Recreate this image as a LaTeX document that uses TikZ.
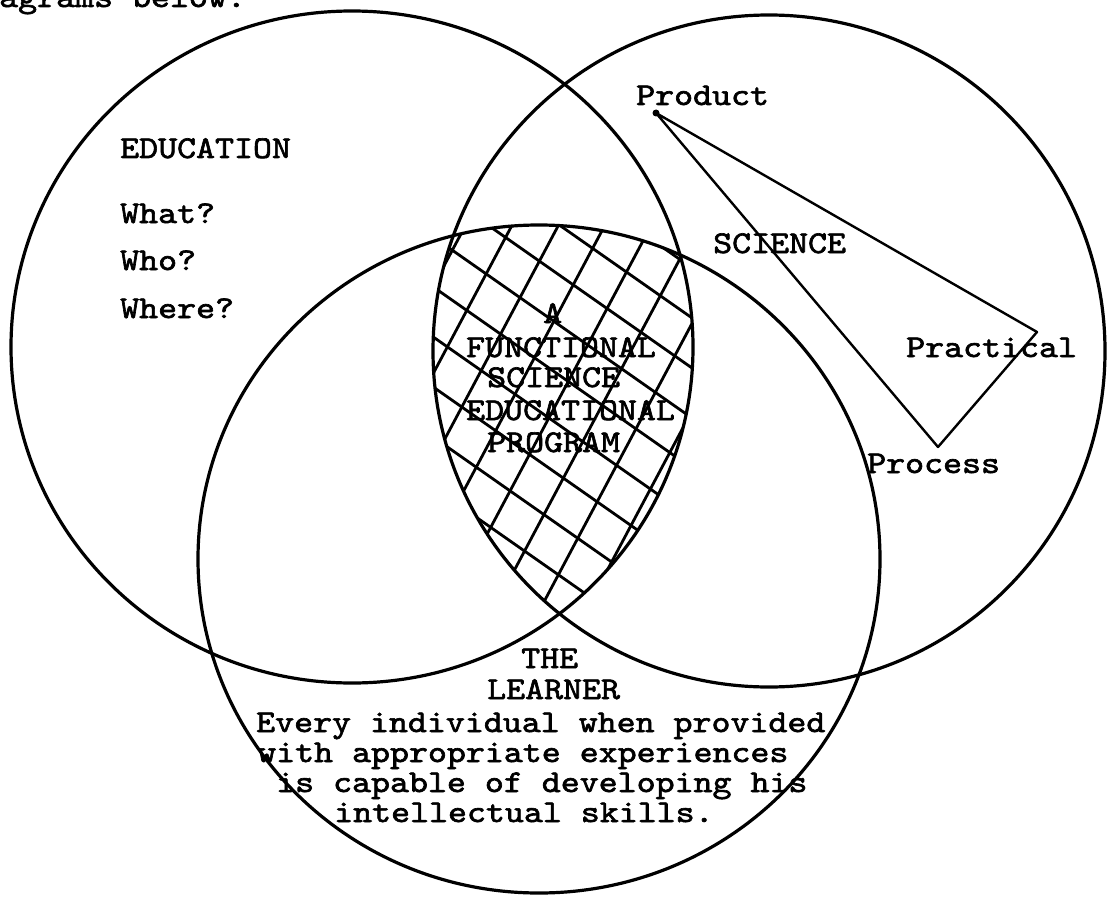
\documentclass[tikz,border=0pt]{standalone}
\usepackage{fontspec}
\newfontfamily\tw{lmmono10-regular}[Extension=.otf, FakeStretch=1.14, FakeBold=2]
\begin{document}
\begin{tikzpicture}[x=1pt,y=-1pt,
  ring/.style={line width=3.2pt},
  hatch/.style={line width=2.8pt},
  tri/.style={line width=2.4pt, line join=round},
  lbl/.style={font=\tw\fontsize{31.7}{31.7}\selectfont, inner sep=0pt, anchor=base west}]
\useasboundingbox (0,0) rectangle (1107,896);
\fill[white] (0,0) rectangle (1107,896);

% cross-hatched triple intersection
\begin{scope}
  \clip (352,347) ellipse [x radius=341, y radius=336];
  \clip (769,351) circle [radius=336];
  \clip (539,559) ellipse [x radius=341, y radius=334];
  \begin{scope}[shift={(557,228)}, rotate=62]
    \foreach \i in {-10,...,10} \draw[hatch] (-500,\i*41) -- (500,\i*41);
  \end{scope}
  \begin{scope}[shift={(452,250)}, rotate=-35]
    \foreach \i in {-10,...,10} \draw[hatch] (-500,\i*41) -- (500,\i*41);
  \end{scope}
\end{scope}

% the three circles
\draw[ring] (352,347) ellipse [x radius=341, y radius=336];
\draw[ring] (769,351) circle [radius=336];
\draw[ring] (539,559) ellipse [x radius=341, y radius=334];

% triangle
\coordinate (pv) at (656,113);
\coordinate (pc) at (1037,332);
\coordinate (ps) at (938,447);
\draw[tri] (pv) -- (pc) -- (ps) -- cycle;
\fill (pv) circle [radius=3.5];

% texts
\node[lbl] (top) at (-1,7) {agrams below.};
\node[lbl] (edu) at (120,158) {EDUCATION};
\node[lbl] (what) at (120,223) {What?};
\node[lbl] (who) at (120,270) {Who?};
\node[lbl] (where) at (120,318) {Where?};

\node[lbl] (prod) at (636,105) {Product};
\node[lbl] (sci) at (713,253) {SCIENCE};
\node[lbl] (prac) at (906,357) {Practical};
\node[lbl] (proc) at (867,473) {Process};

\node[lbl] (fa) at (543,323) {A};
\node[lbl] (fb) at (466,357) {FUNCTIONAL};
\node[lbl] (fc) at (487,387) {SCIENCE};
\node[lbl] (fd) at (466,420) {EDUCATIONAL};
\node[lbl] (fe) at (487,452) {PROGRAM};

\node[lbl] (la) at (521,668) {THE};
\node[lbl] (lb) at (487,699) {LEARNER};
\node[lbl] (lc) at (256,732) {Every individual when provided};
\node[lbl] (ld) at (257,762) {with appropriate experiences};
\node[lbl] (le) at (276,792) {is capable of developing his};
\node[lbl] (lf) at (334,822) {intellectual skills.};
\end{tikzpicture}
\end{document}
